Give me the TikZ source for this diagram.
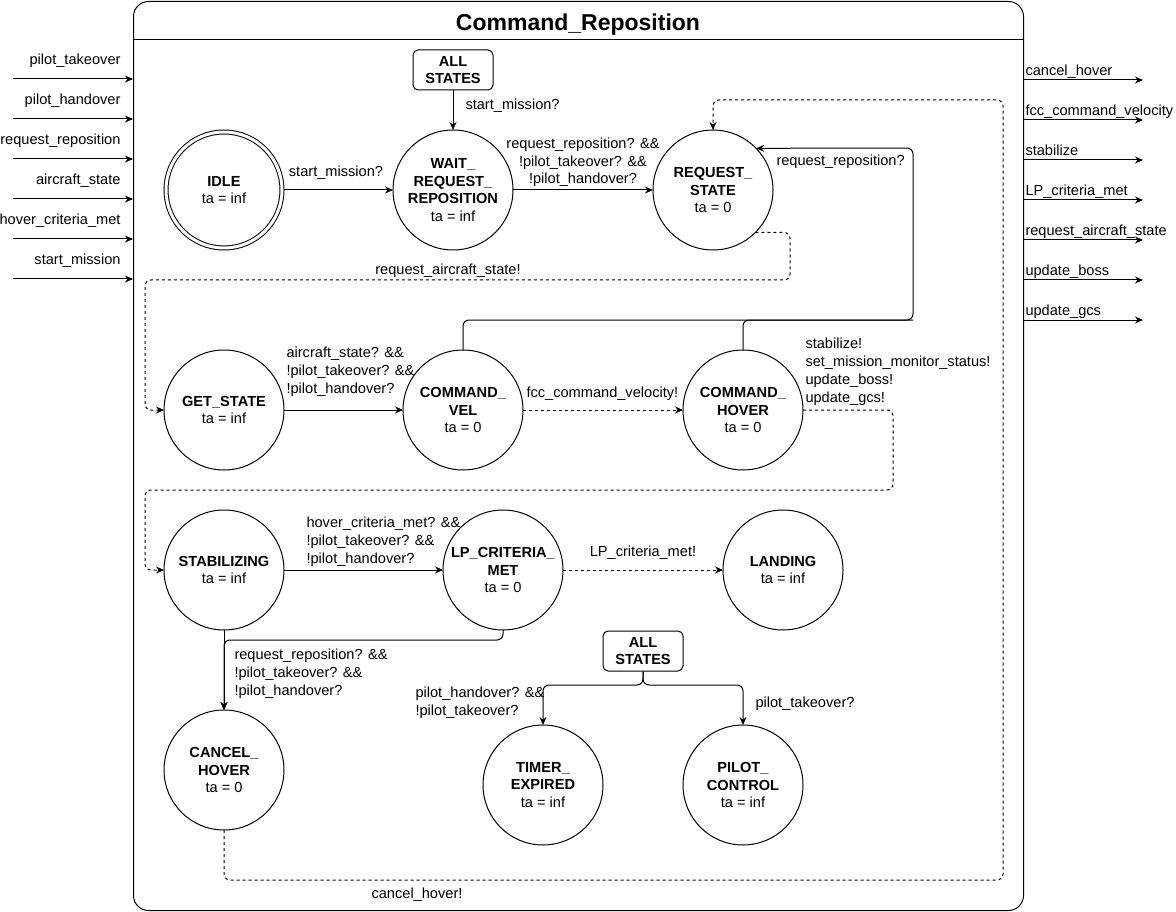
\documentclass[tikz,border=0pt]{standalone}
\usepackage{fontspec}
\setmainfont{Liberation Sans}
\usetikzlibrary{arrows.meta}

\begin{document}
\begin{tikzpicture}[x=1pt,y=-1pt,line width=1pt,
    every node/.style={font=\fontsize{14.6}{17.8}\selectfont,inner sep=0pt},
    stnode/.style={draw,circle,minimum size=120pt,align=center,outer sep=0pt},
    initst/.style={stnode,minimum size=116pt,double,double distance=3pt,outer sep=2pt},
    allbox/.style={draw,rounded corners=5pt,minimum width=80pt,minimum height=40pt,align=center,
      font=\fontsize{14.6}{17.8}\selectfont\bfseries},
    sig/.style={-{Stealth[length=8pt,width=7pt]}},
    msg/.style={sig,dash pattern=on 3pt off 3pt},
    elbow/.style={rounded corners=6pt}]
  \path[use as bounding box,fill=white] (0,0) rectangle (1176,912);

  % Frame and title.
  \node[draw,rounded corners=15pt,minimum width=890pt,minimum height=909pt,anchor=north west] (frame) at (133,1) {};
  \coordinate (hdr) at (0,40);
  \draw (frame.west |- hdr) -- (frame.east |- hdr);
  \node[font=\fontsize{23}{27}\selectfont\bfseries,anchor=base] (title) at (578,31) {Command\_Reposition};

  % Input and output ports.
  \foreach \name [count=\i] in {pilot\_takeover,pilot\_handover,request\_reposition,aircraft\_state,hover\_criteria\_met,start\_mission}{
    \coordinate (in\i) at (13,{39+40*\i});
    \draw[sig] (in\i) -- (in\i -| frame.west);
    \node[anchor=base east] (inlbl\i) at (121,{25+40*\i}) {\name};
  }
  \foreach \name [count=\i] in {cancel\_hover,fcc\_command\_velocity,stabilize,LP\_criteria\_met,request\_aircraft\_state,update\_boss,update\_gcs}{
    \coordinate (out\i) at (1143,{40+40*\i});
    \draw[sig] (out\i -| frame.east) -- (out\i);
    \node[anchor=base west] (outlbl\i) at (1025,{36+40*\i}) {\name};
  }

  % States.
  \node[initst] (idle) at (224,190) {\textbf{IDLE}\\ta = inf};
  \node[stnode] (waitreq) at (453,190) {\textbf{WAIT\_}\\\textbf{REQUEST\_}\\\textbf{REPOSITION}\\ta = inf};
  \node[stnode] (reqstate) at (713,190) {\textbf{REQUEST\_}\\\textbf{STATE}\\ta = 0};
  \node[stnode] (getstate) at (224,410) {\textbf{GET\_STATE}\\ta = inf};
  \node[stnode] (cmdvel) at (463,410) {\textbf{COMMAND\_}\\\textbf{VEL}\\ta = 0};
  \node[stnode] (cmdhover) at (743,410) {\textbf{COMMAND\_}\\\textbf{HOVER}\\ta = 0};
  \node[stnode] (stabil) at (224,570) {\textbf{STABILIZING}\\ta = inf};
  \node[stnode] (lpmet) at (503,570) {\textbf{LP\_CRITERIA\_}\\\textbf{MET}\\ta = 0};
  \node[stnode] (landing) at (783,570) {\textbf{LANDING}\\ta = inf};
  \node[stnode] (cancel) at (224,770) {\textbf{CANCEL\_}\\\textbf{HOVER}\\ta = 0};
  \node[stnode] (timer) at (543,785) {\textbf{TIMER\_}\\\textbf{EXPIRED}\\ta = inf};
  \node[stnode] (pilot) at (743,785) {\textbf{PILOT\_}\\\textbf{CONTROL}\\ta = inf};
  \node[allbox] (allA) at (453,70) {ALL\\STATES};
  \node[allbox] (allB) at (643,651) {ALL\\STATES};

  % Bend points.
  \coordinate (velUp) at (463,320);
  \coordinate (loopR) at (913,320);
  \coordinate (loopT) at (913,148);
  \coordinate (rqsR) at (790,280);
  \coordinate (rqsL) at (145,280);
  \coordinate (hovR) at (893,490);
  \coordinate (hovL) at (145,490);
  \coordinate (lpDn) at (503,640);
  \coordinate (cnDn) at (224,640);
  \coordinate (cnR) at (1003,880);
  \coordinate (cnT) at (713,100);
  \coordinate (allFork) at (643,685);

  % Transitions (multi-line labels sit on the baseline of their last line).
  \draw[sig] (allA) -- (waitreq);
  \node[anchor=base west] (tStartA) at (465,110) {start\_mission?};
  \draw[sig] (idle) -- (waitreq);
  \node[anchor=base] (tStart) at (336,177) {start\_mission?};
  \draw[sig] (waitreq) -- (reqstate);
  \node[align=center,anchor=base] (tReqRep) at (583,184) {request\_reposition? \&\&\\!pilot\_takeover? \&\&\\!pilot\_handover?};
  \draw[sig,elbow] (cmdvel.north) -- (velUp) -- (loopR) -- (loopT) -- (reqstate.44);
  \draw[elbow] (cmdhover.north) |- (loopR);
  \node[anchor=base west] (tReqRep2) at (776,166) {request\_reposition?};
  \draw[msg,elbow] (reqstate.-45) -| (rqsR) -- (rqsL) |- (getstate.west);
  \node[anchor=base] (tReqAir) at (448,275) {request\_aircraft\_state!};
  \draw[sig] (getstate) -- (cmdvel);
  \node[align=left,anchor=base west] (tAir) at (286,393) {aircraft\_state? \&\&\\!pilot\_takeover? \&\&\\!pilot\_handover?};
  \draw[msg] (cmdvel) -- (cmdhover);
  \node[anchor=base west] (tFcc) at (526,397) {fcc\_command\_velocity!};
  \draw[msg,elbow] (cmdhover.east) -| (hovR) -- (hovL) |- (stabil.west);
  \node[align=left,anchor=base west] (tStab) at (805,402) {stabilize!\\set\_mission\_monitor\_status!\\update\_boss!\\update\_gcs!};
  \draw[sig] (stabil) -- (lpmet);
  \node[align=left,anchor=base west] (tHov) at (306,563) {hover\_criteria\_met? \&\&\\!pilot\_takeover? \&\&\\!pilot\_handover?};
  \draw[msg] (lpmet) -- (landing);
  \node[anchor=base] (tLP) at (643,556) {LP\_criteria\_met!};
  \draw[sig,elbow] (lpmet.south) -- (lpDn) -- (cnDn) -- (cancel.north);
  \draw[sig] (stabil) -- (cancel);
  \node[align=left,anchor=base west] (tCan) at (234,695) {request\_reposition? \&\&\\!pilot\_takeover? \&\&\\!pilot\_handover?};
  \draw[msg,elbow] (cancel.south) |- (cnR) |- (cnT) -- (reqstate.north);
  \node[anchor=base] (tCanH) at (417,898) {cancel\_hover!};
  \draw[sig,elbow] (allB.south) -- (allFork) -| (timer.north);
  \draw[sig,elbow] (allB.south) -- (allFork) -| (pilot.north);
  \node[align=left,anchor=base west] (tHand) at (415,715) {pilot\_handover? \&\&\\!pilot\_takeover?};
  \node[anchor=base west] (tTake) at (755,707) {pilot\_takeover?};
\end{tikzpicture}
\end{document}
